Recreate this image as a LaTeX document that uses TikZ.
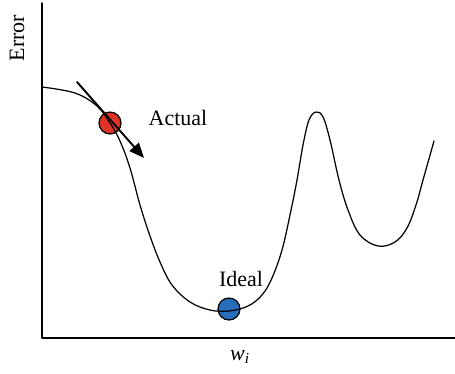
\documentclass[tikz,border=0pt]{standalone}
\usepackage{fontspec}
\setmainfont{Liberation Serif}
\usetikzlibrary{arrows.meta}
\definecolor{dotred}{RGB}{222,52,40}
\definecolor{dotblue}{RGB}{38,110,186}
\tikzset{
  ball/.style={circle, draw=black, line width=0.7pt, inner sep=0pt, minimum size=12.5pt},
  lbl/.style={inner sep=0pt}
}
\begin{document}
\begin{tikzpicture}[x=0.02cm, y=-0.02cm, font=\fontsize{12.5}{15}\selectfont, line join=round, line cap=round, >={Triangle[length=8.5pt,width=7pt]}]
    \useasboundingbox (0,0) rectangle (455,373);
    % axes
    \coordinate (top) at (42,3);
    \coordinate (origin) at (42,338);
    \coordinate (right) at (455,338);
    \draw[line width=0.8pt] (top)--(origin)--(right);
    \node[lbl, rotate=90] (errlbl) at (17,38) {Error};
    \node[lbl] (wlbl) at (240,357) {\itshape w\textsubscript{i}};
    % the two balls
    \node[ball, fill=dotred] (actual) at (110,123) {};
    \node[ball, fill=dotblue] (ideal) at (229,309) {};
    \node[lbl] (actuallbl) at (178,118) {Actual};
    \node[lbl] (ideallbl) at (241,279) {Ideal};
    % error curve
    \draw[line width=0.7pt, smooth, tension=0.6] plot coordinates {(42,87) (75,93) (97,106) (110,123) (120,141) (130,168) (140,205) (150,236) (160,262) (172,285) (190,302) (210,310) (229,311) (248,306) (262,295) (272,278) (282,250) (290,215) (297,180) (303,145) (309,120) (316,112) (323,117) (330,140) (339,180) (348,210) (360,235) (378,246) (395,242) (407,228) (416,205) (423,180) (434,141)};
    % gradient step
    \coordinate (from) at (77,82);
    \coordinate (to) at (144,158);
    \draw[->, line width=1.1pt] (from)--(to);
\end{tikzpicture}
\end{document}
